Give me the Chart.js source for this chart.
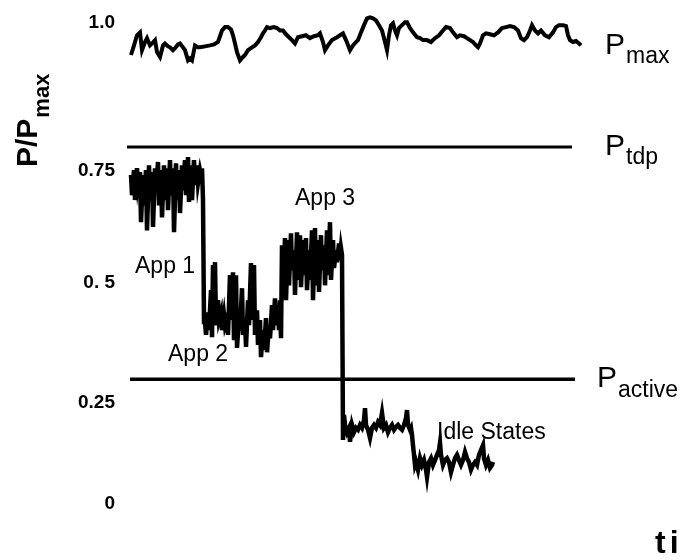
<!DOCTYPE html>
<html>
<head>
<meta charset="utf-8">
<script src="https://cdn.jsdelivr.net/npm/chart.js@4.4.1/dist/chart.umd.min.js"></script>
<style>
  html, body { margin: 0; padding: 0; background: #fff; overflow: hidden; }
  #wrap { width: 681px; height: 560px; }
</style>
</head>
<body>
<div id="wrap"><canvas id="c" width="681" height="560"></canvas></div>
<script>
// ---- Data (time in arbitrary units, power as P/Pmax) ----
const pmaxTime = [0.4,0.7,1.0,1.3,1.5,1.8,2.0,2.3,2.5,2.8,3.0,3.3,3.6,3.8,4.1,4.3,4.6,4.8,5.1,5.3,5.6,5.8,6.1,6.3,6.5,6.8,7.1,7.3,7.8,8.3,8.7,9.1,9.3,9.5,9.8,10.1,10.4,10.6,10.8,11.0,11.3,11.6,11.8,12.1,12.5,12.8,13.1,13.4,13.6,13.8,14.0,14.3,14.7,15.0,15.3,15.6,15.9,16.2,16.5,16.8,17.1,17.5,17.9,18.3,18.7,19.1,19.3,19.6,19.8,20.1,20.5,21.0,21.3,21.6,21.9,22.3,22.6,22.9,23.1,23.4,23.7,24.0,24.3,24.6,24.9,25.2,25.5,25.8,26.0,26.2,26.4,26.6,26.8,27.0,27.2,27.5,27.8,28.0,28.3,28.6,29.0,29.3,29.6,30.0,30.4,30.8,31.2,31.6,31.9,32.3,32.6,33.0,33.3,33.7,34.0,34.3,34.6,34.9,35.1,35.3,35.6,35.9,36.3,36.7,37.1,37.5,37.9,38.3,38.7,39.1,39.4,39.7,40.0,40.3,40.5,40.8,41.1,41.4,41.8,42.2,42.6,42.9,43.2,43.6,43.9,44.1,44.3,44.6,44.9,45.2,45.4];
const pmaxValue = [0.932,0.952,0.973,0.979,0.942,0.959,0.967,0.952,0.956,0.963,0.938,0.928,0.952,0.956,0.950,0.948,0.942,0.946,0.954,0.956,0.948,0.942,0.921,0.925,0.921,0.952,0.948,0.948,0.950,0.952,0.954,0.959,0.971,0.983,0.990,0.990,0.985,0.973,0.956,0.938,0.921,0.928,0.932,0.942,0.948,0.952,0.959,0.969,0.977,0.983,0.990,0.988,0.990,0.988,0.983,0.983,0.975,0.969,0.963,0.956,0.969,0.971,0.973,0.967,0.971,0.973,0.977,0.959,0.942,0.952,0.963,0.969,0.973,0.977,0.963,0.942,0.952,0.959,0.963,0.979,0.994,1.008,1.010,1.008,1.004,0.994,0.983,0.959,0.942,0.973,0.994,0.998,0.983,0.973,0.988,0.994,1.000,1.000,0.988,0.979,0.969,0.967,0.963,0.963,0.959,0.967,0.973,0.983,0.990,0.988,0.979,0.969,0.973,0.971,0.967,0.963,0.959,0.952,0.948,0.956,0.973,0.977,0.975,0.973,0.979,0.988,0.990,0.992,0.990,0.983,0.967,0.963,0.969,0.983,0.994,0.983,0.977,0.983,0.973,0.969,0.979,0.990,0.994,0.994,0.992,0.973,0.963,0.959,0.961,0.956,0.952];

const powerTime = [0.4,0.5,0.7,0.8,1.0,1.1,1.3,1.4,1.6,1.7,1.9,2.0,2.2,2.3,2.5,2.6,2.8,2.9,3.1,3.2,3.4,3.5,3.7,3.8,4.0,4.1,4.3,4.4,4.6,4.7,4.9,5.0,5.2,5.3,5.5,5.6,5.8,5.9,6.1,6.2,6.4,6.5,6.7,6.8,7.0,7.1,7.3,7.4,7.5,7.6,7.7,
  7.8,7.9,8.1,8.2,8.4,8.5,8.6,8.7,8.8,8.9,9.1,9.2,9.4,9.5,9.7,9.8,10.0,10.1,10.3,10.4,10.6,10.7,10.9,11.0,11.2,11.3,11.5,11.6,11.8,11.9,12.1,12.2,12.4,12.5,12.7,12.8,13.0,13.1,13.3,13.4,13.6,13.7,13.9,14.0,14.2,14.3,14.5,14.6,14.8,14.9,15.1,15.2,15.3,15.4,
  15.5,15.6,15.8,15.9,16.1,16.2,16.4,16.5,16.7,16.8,17.0,17.1,17.3,17.4,17.6,17.7,17.9,18.0,18.2,18.3,18.5,18.6,18.8,18.9,19.1,19.2,19.4,19.5,19.7,19.8,20.0,20.1,20.3,20.4,20.6,20.7,20.9,21.0,21.2,21.3,21.4,21.5,21.6,
  21.7,21.8,22.0,22.2,22.3,22.5,22.7,22.9,23.1,23.3,23.5,23.7,23.8,23.9,24.1,24.3,24.5,24.7,24.9,25.1,25.3,25.5,25.7,25.9,26.1,26.3,26.5,26.7,26.9,27.1,27.3,27.5,27.7,27.9,28.0,28.1,28.3,28.4,28.5,28.6,28.7,28.8,
  28.9,29.1,29.3,29.5,29.7,29.9,30.0,30.2,30.4,30.6,30.8,31.0,31.2,31.3,31.4,31.6,31.8,32.0,32.2,32.4,32.6,32.8,33.0,33.2,33.4,33.6,33.8,34.0,34.2,34.4,34.6,34.8,35.0,35.2,35.4,35.6,35.7,35.9,36.1,36.3,36.5,36.6];
const powerValue = [0.683,0.641,0.693,0.631,0.697,0.662,0.689,0.585,0.683,0.620,0.693,0.568,0.703,0.631,0.689,0.575,0.697,0.651,0.710,0.620,0.693,0.595,0.703,0.631,0.697,0.610,0.714,0.641,0.697,0.564,0.707,0.631,0.693,0.604,0.703,0.651,0.714,0.641,0.720,0.627,0.703,0.631,0.714,0.662,0.703,0.666,0.693,0.683,0.697,0.631,0.378,
  0.378,0.351,0.398,0.361,0.444,0.346,0.496,0.402,0.502,0.371,0.423,0.382,0.398,0.361,0.392,0.371,0.386,0.351,0.475,0.382,0.481,0.340,0.475,0.324,0.386,0.361,0.448,0.351,0.382,0.326,0.423,0.371,0.500,0.382,0.496,0.351,0.402,0.330,0.382,0.305,0.361,0.320,0.386,0.315,0.371,0.344,0.413,0.361,0.427,0.371,0.402,0.361,0.423,0.344,
  0.537,0.434,0.552,0.423,0.548,0.454,0.562,0.485,0.527,0.434,0.564,0.465,0.558,0.450,0.548,0.475,0.552,0.444,0.527,0.465,0.568,0.423,0.573,0.454,0.548,0.440,0.558,0.485,0.537,0.454,0.568,0.475,0.585,0.465,0.548,0.490,0.527,0.502,0.541,0.506,0.531,0.517,0.133,
  0.185,0.164,0.149,0.158,0.129,0.164,0.149,0.158,0.154,0.164,0.158,0.174,0.199,0.164,0.154,0.137,0.158,0.164,0.158,0.170,0.164,0.189,0.158,0.164,0.149,0.158,0.164,0.154,0.160,0.164,0.158,0.154,0.164,0.178,0.195,0.164,0.154,0.158,0.143,0.122,0.102,0.081,
  0.087,0.071,0.095,0.081,0.091,0.071,0.056,0.087,0.095,0.081,0.091,0.102,0.112,0.127,0.102,0.081,0.091,0.095,0.087,0.066,0.081,0.095,0.102,0.091,0.081,0.091,0.108,0.095,0.087,0.071,0.081,0.087,0.081,0.102,0.112,0.122,0.095,0.081,0.091,0.075,0.081,0.087];

const tdpTime = [0, 44.5];
const tdpValue = [0.741, 0.741];
const activeTime = [0.3, 44.8];
const activeValue = [0.259, 0.259];

// tick labels as printed on the figure, with where they sit on the value axis
const tickLabels = ['0', '0.25', '0. 5', '0.75', '1.0'];
const tickValues = [0, 0.210, 0.459, 0.691, 1.0];

// annotation texts
const annotations = [
  { text: 'App 1', t: 0.8, v: 0.492 },
  { text: 'App 2', t: 4.1, v: 0.311 },
  { text: 'App 3', t: 16.8, v: 0.633 },
  { text: 'Idle States', t: 31.0, v: 0.149 }
];
const rightLabels = [
  { main: 'P', sub: 'max', v: 0.952, dx: 0 },
  { main: 'P', sub: 'tdp', v: 0.741, dx: 0 },
  { main: 'P', sub: 'active', v: 0.259, dx: -8 }
];

const zip = (xs, ys) => xs.map((x, i) => ({ x: x, y: ys[i] }));

const textPlugin = {
  id: 'texts',
  afterDraw(chart) {
    const ctx = chart.ctx;
    const xs = chart.scales.x, ys = chart.scales.y;
    const area = chart.chartArea;
    ctx.save();
    ctx.fillStyle = '#000';
    // annotations
    ctx.font = '23px "Liberation Sans", Arial, sans-serif';
    ctx.textAlign = 'left';
    ctx.textBaseline = 'middle';
    annotations.forEach(a => {
      ctx.fillText(a.text, xs.getPixelForValue(a.t), ys.getPixelForValue(a.v));
    });
    // right side labels
    rightLabels.forEach(l => {
      const y = ys.getPixelForValue(l.v);
      const x0 = area.right + 20 + l.dx;
      ctx.font = '30px "Liberation Sans", Arial, sans-serif';
      ctx.textBaseline = 'middle';
      ctx.fillText(l.main, x0, y);
      const w = ctx.measureText(l.main).width;
      ctx.font = '23px "Liberation Sans", Arial, sans-serif';
      ctx.fillText(l.sub, x0 + w + 1, y + 11);
    });
    // y axis title, rotated
    ctx.save();
    ctx.translate(37, 167);
    ctx.rotate(-Math.PI / 2);
    ctx.textAlign = 'left';
    ctx.textBaseline = 'alphabetic';
    ctx.font = 'bold 30px "Liberation Sans", Arial, sans-serif';
    ctx.fillText('P/P', 0, 0);
    const w1 = ctx.measureText('P/P').width;
    ctx.font = 'bold 22px "Liberation Sans", Arial, sans-serif';
    ctx.fillText('max', w1 + 1, 12);
    ctx.restore();
    // x axis title (runs off the right edge)
    ctx.font = 'bold 32px "Liberation Sans", Arial, sans-serif';
    ctx.textAlign = 'left';
    ctx.textBaseline = 'alphabetic';
    try { ctx.letterSpacing = '4px'; } catch (e) {}
    ctx.fillText('time', 655, 553);
    ctx.restore();
  }
};

new Chart(document.getElementById('c'), {
  type: 'line',
  data: {
    datasets: [
      { data: zip(pmaxTime, pmaxValue), borderColor: '#000', borderWidth: 4 },
      { data: zip(powerTime, powerValue), borderColor: '#000', borderWidth: 4.5 },
      { data: zip(tdpTime, tdpValue), borderColor: '#000', borderWidth: 3 },
      { data: zip(activeTime, activeValue), borderColor: '#000', borderWidth: 3.5 }
    ]
  },
  options: {
    responsive: false,
    animation: false,
    devicePixelRatio: 1,
    layout: { padding: { left: 0, right: 96, top: 3, bottom: 56 } },
    elements: { point: { radius: 0 }, line: { tension: 0, borderJoinStyle: 'miter', borderCapStyle: 'butt' } },
    plugins: { legend: { display: false }, tooltip: { enabled: false } },
    scales: {
      x: { type: 'linear', min: 0, max: 45.8, display: false },
      y: {
        type: 'linear', min: 0, max: 1.04,
        grid: { display: false, drawTicks: false },
        border: { display: false },
        afterBuildTicks(scale) { scale.ticks = tickValues.map(v => ({ value: v })); },
        afterFit(scale) { scale.width = 127; scale.paddingTop = 0; scale.paddingBottom = 0; },
        ticks: {
          autoSkip: false,
          padding: 12,
          color: '#000',
          font: { family: '"Liberation Sans", Arial, sans-serif', size: 19, weight: 'bold' },
          callback: (value, index) => tickLabels[index]
        }
      }
    }
  },
  plugins: [textPlugin]
});
</script>
</body>
</html>
